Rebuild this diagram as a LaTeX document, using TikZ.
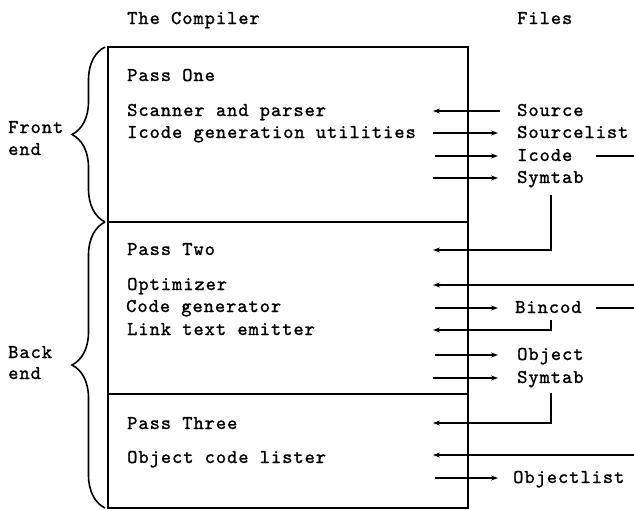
\documentclass[tikz,border=0pt]{standalone}
\usepackage{fontspec}
\setmonofont[LetterSpace=5, FakeBold=1.2]{lmmono10-regular.otf}
\usetikzlibrary{arrows.meta,decorations.pathreplacing}
\begin{document}
\begin{tikzpicture}[x=1pt,y=-1pt,
  txt/.style={font=\ttfamily\fontsize{19.5}{21}\selectfont, inner sep=0pt, anchor=base west},
  arr/.style={-{Stealth[length=7pt,width=5pt]}, line width=1.1pt},
  ln/.style={line width=1.1pt},
  boxline/.style={line width=1.4pt},
  bracepath/.style={line width=1.6pt, decorate, decoration={brace, amplitude=33pt}}]
\useasboundingbox (0,0) rectangle (634,509);
% box
\coordinate (btl) at (108,47);
\coordinate (bbr) at (468,508);
\draw[boxline] (btl) rectangle (bbr);
\coordinate (d1l) at (108,222); \coordinate (d1r) at (468,222);
\coordinate (d2l) at (108,394); \coordinate (d2r) at (468,394);
\draw[boxline] (d1l) -- (d1r);
\draw[boxline] (d2l) -- (d2r);
% braces
\coordinate (fb1) at (105,222); \coordinate (fb2) at (105,47);
\coordinate (bb1) at (105,508); \coordinate (bb2) at (105,222);
\draw[bracepath] (fb1) -- (fb2);
\draw[bracepath] (bb1) -- (bb2);
% headings
\node[txt] (tcomp) at (127,24) {The Compiler};
\node[txt] (tfiles) at (517,24) {Files};
\node[txt] (front) at (8,133) {Front};
\node[txt] (fend) at (8,155) {end};
\node[txt] (back) at (8,358) {Back};
\node[txt] (bend) at (8,379) {end};
% compiler text
\node[txt] (p1) at (127,81) {Pass One};
\node[txt] (scan) at (127,116) {Scanner and parser};
\node[txt] (icg) at (127,138) {Icode generation utilities};
\node[txt] (p2) at (127,255) {Pass Two};
\node[txt] (opt) at (127,290) {Optimizer};
\node[txt] (cg) at (126,312) {Code generator};
\node[txt] (lte) at (127,335) {Link text emitter};
\node[txt] (p3) at (127,429) {Pass Three};
\node[txt] (ocl) at (127,463) {Object code lister};
% files
\node[txt] (src) at (517,116) {Source};
\node[txt] (srcl) at (517,138) {Sourcelist};
\node[txt] (icode) at (517,161) {Icode};
\node[txt] (sym1) at (517,183) {Symtab};
\node[txt] (bin) at (515,313) {Bincod};
\node[txt] (obj) at (517,360) {Object};
\node[txt] (sym2) at (517,383) {Symtab};
\node[txt] (objl) at (513,483) {Objectlist};
% arrow end points
\coordinate (a1r) at (500,111); \coordinate (a1l) at (433,111);
\coordinate (a2l) at (433,133); \coordinate (a2r) at (498,133);
\coordinate (a3l) at (435,156); \coordinate (a3r) at (498,156);
\coordinate (a4l) at (433,178); \coordinate (a4r) at (498,178);
\coordinate (s1t) at (551,195); \coordinate (s1b) at (551,250); \coordinate (s1l) at (433,250);
\coordinate (ic1) at (596,156); \coordinate (ic2) at (634,156);
\coordinate (o1r) at (634,285); \coordinate (o1l) at (433,285);
\coordinate (b1l) at (435,308); \coordinate (b1r) at (498,308);
\coordinate (bs1) at (596,308); \coordinate (bs2) at (634,308);
\coordinate (bt) at (551,320); \coordinate (bb) at (551,330); \coordinate (bl) at (433,330);
\coordinate (ob1) at (435,355); \coordinate (ob2) at (498,355);
\coordinate (sy1) at (433,378); \coordinate (sy2) at (498,378);
\coordinate (s2t) at (551,393); \coordinate (s2b) at (551,423); \coordinate (s2l) at (433,423);
\coordinate (l3r) at (634,455); \coordinate (l3l) at (433,455);
\coordinate (olA) at (435,478); \coordinate (olB) at (498,478);
% arrows
\draw[arr] (a1r) -- (a1l);
\draw[arr] (a2l) -- (a2r);
\draw[arr] (a3l) -- (a3r);
\draw[arr] (a4l) -- (a4r);
\draw[ln] (ic1) -- (ic2);
\draw[arr] (s1t) -- (s1b) -- (s1l);
\draw[arr] (o1r) -- (o1l);
\draw[arr] (b1l) -- (b1r);
\draw[ln] (bs1) -- (bs2);
\draw[arr] (bt) -- (bb) -- (bl);
\draw[arr] (ob1) -- (ob2);
\draw[arr] (sy1) -- (sy2);
\draw[arr] (s2t) -- (s2b) -- (s2l);
\draw[arr] (l3r) -- (l3l);
\draw[arr] (olA) -- (olB);
\end{tikzpicture}
\end{document}
